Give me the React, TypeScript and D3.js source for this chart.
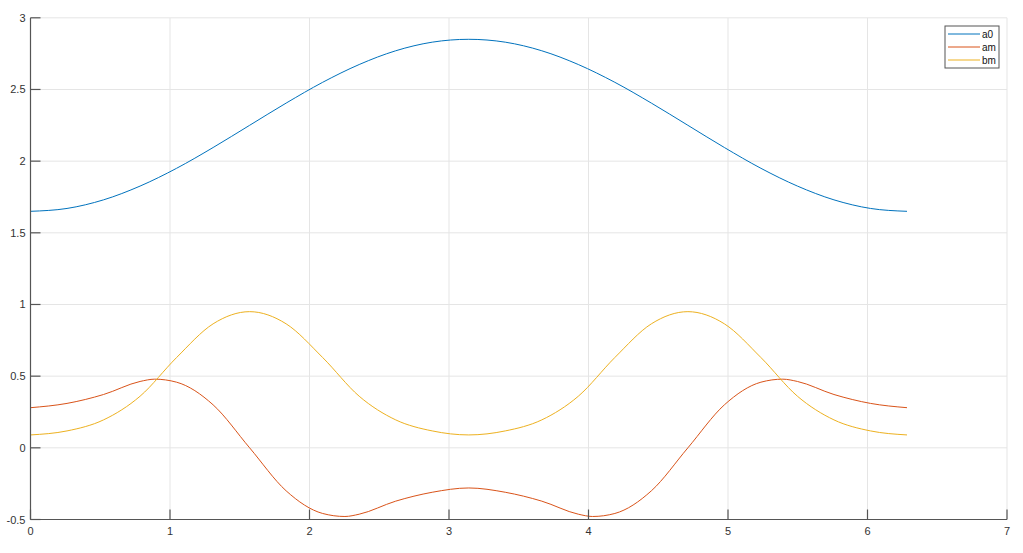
import React from "react";
import * as d3 from "d3";

// sample positions (t in radians, step pi/12 from 0 to 2*pi)
const tValues = [
  0, 0.2618, 0.5236, 0.7854, 1.0472, 1.309, 1.5708, 1.8326, 2.0944, 2.3562, 2.618, 2.8798,
  3.1416, 3.4034, 3.6652, 3.927, 4.1888, 4.4506, 4.7124, 4.9742, 5.236, 5.4978, 5.7596, 6.0214, 6.2832,
];
const a0Values = [
  1.65, 1.67, 1.73, 1.826, 1.95, 2.095, 2.25, 2.405, 2.55, 2.674, 2.77, 2.83,
  2.85, 2.83, 2.77, 2.674, 2.55, 2.405, 2.25, 2.095, 1.95, 1.826, 1.73, 1.67, 1.65,
];
const bmValues = [
  0.09, 0.118, 0.195, 0.36, 0.63, 0.865, 0.95, 0.865, 0.63, 0.36, 0.195, 0.118,
  0.09, 0.118, 0.195, 0.36, 0.63, 0.865, 0.95, 0.865, 0.63, 0.36, 0.195, 0.118, 0.09,
];
// am has its own positions, including its peaks and troughs
const tAm = [
  0, 0.2618, 0.5236, 0.7854, 0.89, 1.0472, 1.309, 1.5708, 1.8326, 2.0944, 2.254, 2.3562, 2.618, 2.8798,
  3.1416, 3.4034, 3.6652, 3.927, 4.029, 4.1888, 4.4506, 4.7124, 4.9742, 5.236, 5.393, 5.4978, 5.7596,
  6.0214, 6.2832,
];
const amValues = [
  0.28, 0.31, 0.372, 0.463, 0.479, 0.458, 0.3, 0.0, -0.3, -0.458, -0.479, -0.463, -0.372, -0.31,
  -0.28, -0.31, -0.372, -0.463, -0.479, -0.458, -0.3, 0.0, 0.3, 0.458, 0.479, 0.463, 0.372,
  0.31, 0.28,
];
const seriesNames = ["a0", "am", "bm"];
const seriesColors = ["#0072BD", "#D95319", "#EDB120"];
const xTicks = [0, 1, 2, 3, 4, 5, 6, 7];
const yTicks = [-0.5, 0, 0.5, 1, 1.5, 2, 2.5, 3];

const W = 1023;
const H = 553;
const margin = { left: 30.5, right: 16, top: 17.8, bottom: 33.5 };

export default function App() {
  const x = d3.scaleLinear().domain([0, 7]).range([margin.left, W - margin.right]);
  const y = d3.scaleLinear().domain([-0.5, 3]).range([H - margin.bottom, margin.top]);
  const series = [
    { t: tValues, v: a0Values },
    { t: tAm, v: amValues },
    { t: tValues, v: bmValues },
  ];
  const makePath = (ts: number[], vs: number[]) =>
    d3
      .line<number>()
      .x((_, i) => x(ts[i]))
      .y((d) => y(d))
      .curve(d3.curveMonotoneX)(vs) || "";

  const axisColor = "#555";
  const gridColor = "#e5e5e5";
  const font = "'Liberation Sans', Arial, sans-serif";
  const x0 = x(0);
  const y0 = y(-0.5);

  const legX = 945, legY = 26, legW = 54, legH = 42;

  return (
    <svg
      width={W}
      height={H}
      style={{ position: "absolute", left: 0, top: 0, background: "#fff" }}
      fontFamily={font}
    >
      <rect x={0} y={0} width={W} height={H} fill="#fff" />
      {/* grid */}
      {xTicks.map((t) => (
        <line key={"gx" + t} x1={x(t)} x2={x(t)} y1={y(3)} y2={y0} stroke={gridColor} strokeWidth={1} />
      ))}
      {yTicks.map((t) => (
        <line key={"gy" + t} x1={x0} x2={x(7)} y1={y(t)} y2={y(t)} stroke={gridColor} strokeWidth={1} />
      ))}
      {/* series */}
      {series.map((s, i) => (
        <path key={seriesNames[i]} d={makePath(s.t, s.v)} fill="none" stroke={seriesColors[i]} strokeWidth={1} />
      ))}
      {/* axes */}
      <line x1={x0} x2={x0} y1={y(3)} y2={y0} stroke={axisColor} strokeWidth={1.2} />
      <line x1={x0} x2={x(7)} y1={y0} y2={y0} stroke={axisColor} strokeWidth={1.2} />
      {xTicks.map((t) => (
        <g key={"tx" + t}>
          <line x1={x(t)} x2={x(t)} y1={y0} y2={y0 - 10} stroke={axisColor} strokeWidth={1.2} />
          <text x={x(t)} y={y0 + 15} fontSize={11} fill="#333" textAnchor="middle">
            {t}
          </text>
        </g>
      ))}
      {yTicks.map((t) => (
        <g key={"ty" + t}>
          <line x1={x0} x2={x0 + 10} y1={y(t)} y2={y(t)} stroke={axisColor} strokeWidth={1.2} />
          <text x={x0 - 5} y={y(t) + 4} fontSize={11} fill="#333" textAnchor="end">
            {t}
          </text>
        </g>
      ))}
      {/* legend */}
      <rect x={legX} y={legY} width={legW} height={legH} fill="#fff" stroke="#555" strokeWidth={1} />
      {seriesNames.map((n, i) => (
        <g key={"lg" + n}>
          <line
            x1={legX + 3}
            x2={legX + 35}
            y1={legY + 8 + i * 13}
            y2={legY + 8 + i * 13}
            stroke={seriesColors[i]}
            strokeWidth={1}
          />
          <text x={legX + 37} y={legY + 11.5 + i * 13} fontSize={10} fill="#111">
            {n}
          </text>
        </g>
      ))}
    </svg>
  );
}
